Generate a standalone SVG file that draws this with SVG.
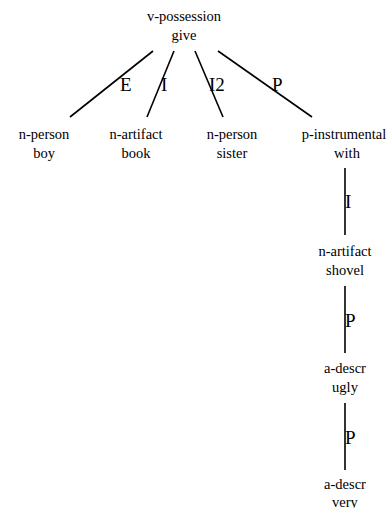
<svg xmlns="http://www.w3.org/2000/svg" width="386" height="508" viewBox="0 0 386 508">
<style>
text{font-family:"Liberation Serif","Times New Roman",serif;font-size:14.5px;fill:#000;text-anchor:middle}
.lbl{font-size:19px;text-anchor:start}
line{stroke:#000;stroke-width:1.6}
</style>
<rect width="386" height="508" fill="#fff"/>
<g id="connectors">
<line x1="153" y1="51" x2="70" y2="117"/>
<line x1="174" y1="51" x2="147" y2="117"/>
<line x1="195" y1="51" x2="223" y2="117"/>
<line x1="218" y1="51" x2="312" y2="117"/>
<line x1="345" y1="168" x2="345" y2="235"/>
<line x1="345" y1="286" x2="345" y2="353"/>
<line x1="345" y1="403" x2="345" y2="470"/>
<text class="lbl" x="120" y="91">E</text>
<text class="lbl" x="161" y="91">I</text>
<text class="lbl" x="209" y="91">I2</text>
<text class="lbl" x="272" y="91">P</text>
<text class="lbl" x="345" y="208">I</text>
<text class="lbl" x="345" y="327">P</text>
<text class="lbl" x="345" y="444">P</text>
</g>
<g id="n0"><text x="184" y="21">v-possession</text><text x="184" y="40">give</text></g>
<g id="n1"><text x="44" y="139">n-person</text><text x="44" y="158">boy</text></g>
<g id="n2"><text x="136" y="139">n-artifact</text><text x="136" y="158">book</text></g>
<g id="n3"><text x="232" y="139">n-person</text><text x="232" y="158">sister</text></g>
<g id="n4"><text x="344" y="139">p-instrumental</text><text x="347" y="158">with</text></g>
<g id="n5"><text x="345" y="256">n-artifact</text><text x="345" y="275">shovel</text></g>
<g id="n6"><text x="345" y="373">a-descr</text><text x="345" y="392">ugly</text></g>
<g id="n7"><text x="345" y="489">a-descr</text><text x="345" y="507">very</text></g>
</svg>
